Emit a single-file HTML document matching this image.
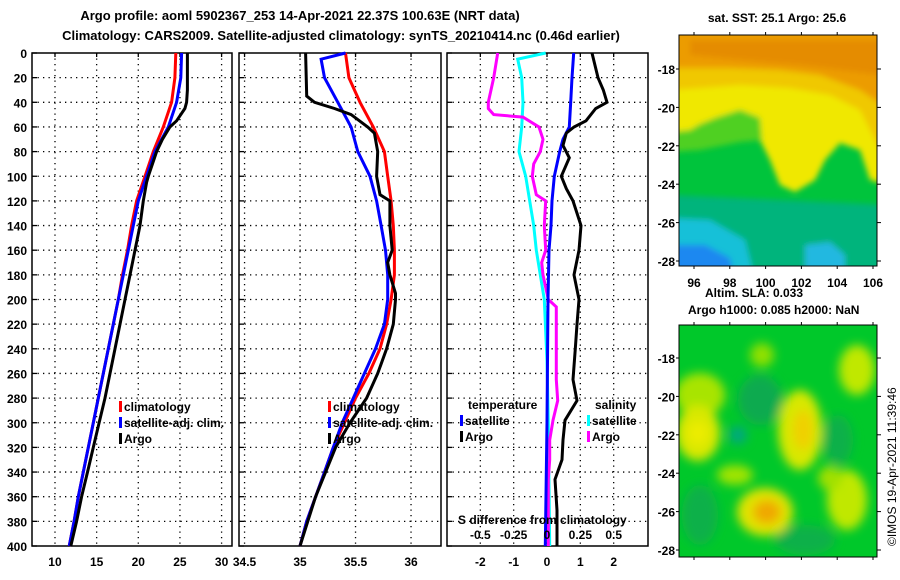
<!DOCTYPE html>
<html><head><meta charset="utf-8"><style>
body{margin:0;background:#fff;width:900px;height:580px;overflow:hidden}
svg{display:block;font-family:"Liberation Sans",sans-serif;font-weight:bold}
</style></head><body>
<svg id="chart" width="900" height="580" viewBox="0 0 900 580">
<defs>
<filter id="blur3" x="-20%" y="-20%" width="140%" height="140%"><feGaussianBlur stdDeviation="3"/></filter>
<filter id="blur5" x="-30%" y="-30%" width="160%" height="160%"><feGaussianBlur stdDeviation="5"/></filter>
<clipPath id="clipTop"><rect x="679" y="35" width="198" height="231"/></clipPath>
<clipPath id="clipBot"><rect x="679" y="325" width="198" height="232"/></clipPath>
</defs>
<text x="300" y="20" font-size="13" text-anchor="middle">Argo profile: aoml 5902367_253 14-Apr-2021 22.37S 100.63E (NRT data)</text>
<text x="341" y="40" font-size="13" text-anchor="middle">Climatology: CARS2009. Satellite-adjusted climatology: synTS_20210414.nc (0.46d earlier)</text>

<g id="panels"></g>

<!-- top map -->
<g clip-path="url(#clipTop)">
<rect x="679" y="35" width="198" height="231" fill="#00c43c"/>
<g filter="url(#blur3)">
<polygon points="670,195 890,205 890,280 670,280" fill="#00b47c"/>
<polygon points="670,218 710,220 745,240 755,280 670,280" fill="#18c0d8"/>
<polygon points="670,245 705,245 730,258 735,280 670,280" fill="#1e88f0"/>
<polygon points="805,245 830,242 845,255 845,280 805,280" fill="#20b8e0"/>
<polygon points="670,25 890,25 890,185 870,180 860,150 840,143 825,160 815,180 795,192 780,185 770,160 760,140 760,118 740,110 715,118 700,125 690,135 670,140" fill="#f0e800"/>
<polygon points="670,132 690,130 700,124 715,118 740,110 760,118 762,140 740,142 700,150 670,152" fill="#50d020"/>
<polygon points="670,25 890,25 890,170 875,140 860,110 830,95 790,88 740,85 700,88 670,90" fill="#f0c800"/>
<polygon points="670,25 890,25 890,110 860,90 820,75 780,70 730,68 670,68" fill="#ec9c00"/>
<polygon points="690,40 880,40 880,75 800,65 740,60 690,55" fill="#e48800" opacity="0.8"/>
</g>
</g>
<rect x="679" y="35" width="198" height="231" fill="none" stroke="#000"/>
<text x="777" y="22" font-size="12" text-anchor="middle">sat. SST: 25.1 Argo: 25.6</text>

<!-- bottom map -->
<g clip-path="url(#clipBot)">
<rect x="679" y="325" width="198" height="232" fill="#00c82a"/>
<g filter="url(#blur5)">
<ellipse cx="760" cy="400" rx="22" ry="25" fill="#10aa50"/>
<ellipse cx="838" cy="440" rx="15" ry="25" fill="#10b048"/>
<ellipse cx="700" cy="515" rx="18" ry="30" fill="#10b048"/>
<ellipse cx="805" cy="540" rx="30" ry="15" fill="#10b048"/>
<ellipse cx="738" cy="435" rx="9" ry="9" fill="#00a880"/>
<ellipse cx="700" cy="395" rx="25" ry="22" fill="#a8e400"/>
<ellipse cx="698" cy="433" rx="22" ry="28" fill="#d8e800"/>
<ellipse cx="698" cy="433" rx="10" ry="12" fill="#ecec00"/>
<ellipse cx="762" cy="355" rx="12" ry="12" fill="#90e000"/>
<ellipse cx="800" cy="430" rx="22" ry="40" fill="#d8e800"/>
<ellipse cx="803" cy="430" rx="10" ry="20" fill="#f0d000"/>
<ellipse cx="735" cy="475" rx="18" ry="10" fill="#a0e400"/>
<ellipse cx="765" cy="512" rx="28" ry="24" fill="#e0e400"/>
<ellipse cx="767" cy="512" rx="14" ry="12" fill="#f0a800"/>
<ellipse cx="857" cy="370" rx="18" ry="25" fill="#c0e800"/>
<ellipse cx="847" cy="500" rx="20" ry="30" fill="#c0e800"/>
<ellipse cx="830" cy="478" rx="12" ry="12" fill="#a0e000"/>
</g>
</g>
<rect x="679" y="325" width="198" height="232" fill="none" stroke="#000"/>
<text x="705" y="297" font-size="12">Altim. SLA: 0.033</text>
<text x="688" y="314" font-size="12">Argo h1000: 0.085 h2000: NaN</text>
<text x="896" y="546" font-size="12" font-weight="normal" transform="rotate(-90 896 546)">©IMOS 19-Apr-2021 11:39:46</text>
<g id="mapaxes"></g>
</svg>
<script>
// ---- data ----
const tempDepthClim = [0,20,40,60,80,100,120,140,160,180,200,220,240,260,280,300,320,340,360,380,400];
const tempClim = [24.5,24.4,24.0,23.0,21.8,20.8,19.8,19.2,18.7,18.1,17.6,17.0,16.4,15.8,15.2,14.6,14.0,13.4,12.8,12.3,11.7];
const tempSat = [25.2,25.1,24.6,23.6,22.0,21.0,20.0,19.4,18.8,18.2,17.6,17.0,16.4,15.8,15.2,14.6,14.0,13.4,12.8,12.3,11.7];
const tempDepthArgo = [0,30,40,45,55,60,70,80,100,105,120,140,160,180,200,220,240,260,280,300,320,340,360,380,400];
const tempArgo = [25.9,25.9,25.8,25.6,24.6,23.8,22.9,22.2,21.2,21.0,20.6,20.2,19.6,19.0,18.4,17.8,17.2,16.6,16.0,15.3,14.6,13.9,13.2,12.6,11.9];

const salDepthClim = [0,20,40,60,80,100,120,140,160,180,200,220,240,260,280,300,320,340,360,380,400];
const salClim = [35.41,35.44,35.54,35.66,35.76,35.79,35.82,35.84,35.85,35.85,35.82,35.78,35.72,35.62,35.5,35.4,35.3,35.22,35.14,35.06,35.0];
const salDepthSat = [0,5,20,40,50,60,80,100,120,140,160,180,200,220,240,260,280,300,320,340,360,380,400];
const salSat = [35.41,35.19,35.22,35.34,35.40,35.46,35.52,35.63,35.69,35.73,35.77,35.79,35.79,35.76,35.68,35.58,35.48,35.38,35.3,35.22,35.14,35.06,35.0];
const salDepthArgo = [0,35,40,45,50,60,65,80,100,115,120,140,160,170,180,195,200,220,240,260,280,300,320,340,360,380,400];
const salArgo = [35.05,35.06,35.13,35.31,35.46,35.61,35.67,35.70,35.69,35.72,35.81,35.81,35.83,35.79,35.81,35.86,35.86,35.84,35.78,35.7,35.6,35.45,35.32,35.23,35.14,35.07,35.0];

const tdDepthSat = [0,20,40,60,70,80,100,120,140,160,200,300,400];
const tdSat = [0.8,0.75,0.71,0.67,0.48,0.38,0.22,0.15,0.12,0.06,0.03,0.0,-0.05];
const tdDepthArgo = [0,20,30,40,45,55,60,65,75,85,100,110,120,140,160,180,200,220,240,265,282,298,314,330,346,371,400];
const tdArgo = [1.35,1.53,1.69,1.8,1.46,1.17,0.81,0.58,0.48,0.67,0.43,0.58,0.78,1.02,0.96,0.81,0.96,0.9,0.85,0.78,0.9,0.54,0.48,0.45,0.24,0.3,0.3];
const sdDepthSat = [0,5,20,40,60,80,100,120,140,160,180,200,250,300,400];
const sdSat = [-0.01,-0.22,-0.19,-0.18,-0.19,-0.21,-0.16,-0.13,-0.10,-0.08,-0.05,-0.02,0.0,0.01,0.02];
const sdDepthArgo = [0,20,40,45,50,52,60,70,80,90,100,115,120,140,160,170,180,200,206,240,265,282,298,314,330,346,371,400];
const sdArgo = [-0.37,-0.40,-0.44,-0.44,-0.40,-0.18,-0.06,-0.03,-0.05,-0.10,-0.11,-0.08,-0.01,-0.02,-0.01,-0.04,-0.03,0.01,0.07,0.07,0.07,0.08,0.045,0.02,0.02,0.01,0.01,0.01];

const depthTicks = [0,20,40,60,80,100,120,140,160,180,200,220,240,260,280,300,320,340,360,380,400];
const p1Ticks = [10,15,20,25,30];
const p2Ticks = [34.5,35,35.5,36];
const p3Ticks = [-2,-1,0,1,2];
const sTicks = ["-0.5","-0.25","0","0.25","0.5"];
const lonTicks = [96,98,100,102,104,106];
const latTicks = [-18,-20,-22,-24,-26,-28];

// ---- helpers ----
const NS = "http://www.w3.org/2000/svg";
const root = document.getElementById('panels');
function mk(tag, attrs, parent){const e=document.createElementNS(NS,tag);for(const k in attrs)e.setAttribute(k,attrs[k]);(parent||root).appendChild(e);return e;}
const Y0=53, Y1=546;
const yS = d => Y0 + (d/400)*(Y1-Y0);
const panels = [
  {x0:32,x1:232,min:7.24,max:31.25,ticks:p1Ticks,name:'temperature-panel'},
  {x0:239,x1:441,min:34.45,max:36.27,ticks:p2Ticks,name:'salinity-panel'},
  {x0:447,x1:648,min:-3.0,max:3.03,ticks:p3Ticks,name:'difference-panel'}
];
function xS(p,v){return p.x0+(v-p.min)/(p.max-p.min)*(p.x1-p.x0);}

panels.forEach((p,pi)=>{
  const g=mk('g',{});
  
  
  depthTicks.forEach(d=>{ if(d>0&&d<400){const l=mk('line',{x1:p.x0,x2:p.x1,y1:yS(d),y2:yS(d),stroke:'#000','stroke-width':1.3,'stroke-dasharray':'1.3 4.2'},g);
    
    }
    mk('line',{x1:p.x0,x2:p.x0+5,y1:yS(d),y2:yS(d),stroke:'#000','stroke-width':1.3},g);
  });
  p.ticks.forEach(t=>{const x=xS(p,t);
    const l=mk('line',{x1:x,x2:x,y1:Y0,y2:Y1,stroke:'#000','stroke-width':1.3,'stroke-dasharray':'1.3 4.2'},g);
    
    
    mk('line',{x1:x,x2:x,y1:Y0,y2:Y0+4,stroke:'#000','stroke-width':1.3},g);
    const tx=mk('text',{x:x,y:566,'font-size':12,'text-anchor':'middle'},g);
    tx.textContent=String(t);
    
    
  });
  const fr=mk('rect',{x:p.x0,y:Y0,width:p.x1-p.x0,height:Y1-Y0,fill:'none',stroke:'#000','stroke-width':1.5},g);
  
  
});
depthTicks.forEach(d=>{const t=mk('text',{x:27,y:yS(d)+5,'font-size':12,'text-anchor':'end'});
  t.textContent=String(d);
  
  });

function line(p,depths,vals,color,name,scale){
  const pts=depths.map((d,i)=>xS(p,vals[i]*(scale||1)).toFixed(1)+','+yS(d).toFixed(1)).join(' ');
  const l=mk('polyline',{points:pts,fill:'none',stroke:color,'stroke-width':3,'stroke-linejoin':'miter'});
  
  
}
const [P1,P2,P3]=panels;
line(P1,tempDepthClim,tempClim,'#ff0000','temp-climatology-line');
line(P1,tempDepthClim,tempSat,'#0000ff','temp-satellite-line');
line(P1,tempDepthArgo,tempArgo,'#000','temp-argo-line');
line(P2,salDepthClim,salClim,'#ff0000','sal-climatology-line');
line(P2,salDepthSat,salSat,'#0000ff','sal-satellite-line');
line(P2,salDepthArgo,salArgo,'#000','sal-argo-line');
line(P3,sdDepthSat,sdSat,'#00ffff','sdiff-satellite-line',4);
line(P3,sdDepthArgo,sdArgo,'#ff00ff','sdiff-argo-line',4);
line(P3,tdDepthSat,tdSat,'#0000ff','tdiff-satellite-line');
line(P3,tdDepthArgo,tdArgo,'#000','tdiff-argo-line');

function legend(x,y,color,text,name){
  const r=mk('rect',{x:x,y:y-10,width:3,height:11,fill:color});
  
  
  const t=mk('text',{x:x+5,y:y,'font-size':12});
  t.textContent=text;
  
  
}
legend(119,411,'#ff0000','climatology','legend-climatology');
legend(119,427,'#0000ff','satellite-adj. clim.','legend-satellite-adj');
legend(119,443,'#000','Argo','legend-argo');
legend(328,411,'#ff0000','climatology','legend2-climatology');
legend(328,427,'#0000ff','satellite-adj. clim.','legend2-satellite-adj');
legend(328,443,'#000','Argo','legend2-argo');
const th=mk('text',{x:468,y:409,'font-size':12});th.textContent='temperature';


const sh=mk('text',{x:595,y:409,'font-size':12});sh.textContent='salinity';


legend(460,425,'#0000ff','satellite','legend-temp-satellite');
legend(460,441,'#000','Argo','legend-temp-argo');
legend(587,425,'#00ffff','satellite','legend-sal-satellite');
legend(587,441,'#ff00ff','Argo','legend-sal-argo');
const st=mk('text',{x:458,y:524,'font-size':12});st.textContent='S difference from climatology';


sTicks.forEach(s=>{const t=mk('text',{x:xS(P3,parseFloat(s)*4),y:539,'font-size':12,'text-anchor':'middle'});
  t.textContent=s;
  
  });

// map axes
const ma=document.getElementById('mapaxes');
const lonX = v => 694 + (v-96)*17.9;
const maps=[{y0:35,y1:266,lat:v=>69+(-18-v)*19.2,labels:true},{y0:325,y1:557,lat:v=>358+(-18-v)*19.2,labels:false}];
maps.forEach(m=>{
  lonTicks.forEach(v=>{const x=lonX(v);
    mk('line',{x1:x,x2:x,y1:m.y0-3,y2:m.y0,stroke:'#000'},ma);
    mk('line',{x1:x,x2:x,y1:m.y1,y2:m.y1+3,stroke:'#000'},ma);
    if(m.labels){const t=mk('text',{x:x,y:287,'font-size':12,'text-anchor':'middle'},ma);t.textContent=String(v);
      
      }
  });
  latTicks.forEach(v=>{const y=m.lat(v);
    mk('line',{x1:877,x2:881,y1:y,y2:y,stroke:'#000'},ma);
    mk('line',{x1:676,x2:679,y1:y,y2:y,stroke:'#000'},ma);
    const t=mk('text',{x:675,y:y+5,'font-size':12,'text-anchor':'end'},ma);t.textContent=String(v);
    
    
  });
});
</script>
</body></html>
